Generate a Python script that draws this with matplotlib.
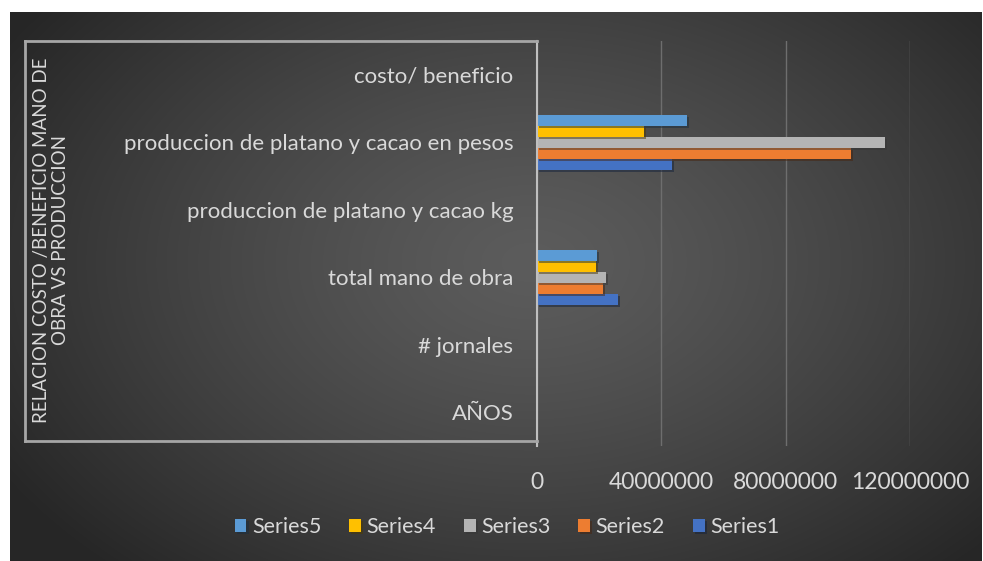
import numpy as np
import matplotlib
matplotlib.use("Agg")
import matplotlib.pyplot as plt
from matplotlib import patheffects
from matplotlib.lines import Line2D

# categorias (de abajo hacia arriba) y valores por serie
categorias = ["AÑOS", "# jornales", "total mano de obra",
              "produccion de platano y cacao kg",
              "produccion de platano y cacao en pesos", "costo/ beneficio"]
series1 = [2014, 260, 26100000, 21000, 43300000, 1.6]
series2 = [2015, 240, 21300000, 45000, 100900000, 3.7]
series3 = [2016, 250, 22200000, 48000, 111800000, 4.0]
series4 = [2017, 230, 19000000, 16000, 34400000, 1.4]
series5 = [2018, 230, 19200000, 22000, 48100000, 1.8]
nombres = ["Series1", "Series2", "Series3", "Series4", "Series5"]
colores = ["#4472C4", "#ED7D31", "#B4B4B4", "#FFC000", "#5B9BD5"]
ticks_x = [0, 40000000, 80000000, 120000000]

plt.rcParams["font.family"] = ["Lato", "DejaVu Sans"]
texto = "#d9d9d9"

W, H = 983, 561
fig = plt.figure(figsize=(W / 100, H / 100), dpi=100, facecolor="white")

# fondo oscuro con degradado radial
bg = fig.add_axes([10 / W, 0, 972 / W, 549 / H])
yy, xx = np.mgrid[0:549, 0:972]
r = np.sqrt(((xx - 520) / 620) ** 2 + ((yy - 250) / 420) ** 2)
r = np.clip(r, 0, 1)
claro, oscuro = 0x5c / 255, 0x26 / 255
img = claro + (oscuro - claro) * r ** 1.3
bg.imshow(np.dstack([img, img, img]), aspect="auto", extent=(0, 1, 0, 1))
bg.axis("off")

# area de trazado
x0, x1, ytop, ybot = 537, 910, 41, 446
ax = fig.add_axes([x0 / W, (H - ybot) / H, (x1 - x0) / W, (ybot - ytop) / H])
ax.patch.set_alpha(0)

y = np.arange(len(categorias))
h = 0.163
valores = [series1, series2, series3, series4, series5]
sombra = [patheffects.SimplePatchShadow(offset=(1.5, -1.5), alpha=0.5), patheffects.Normal()]
for i, (vals, nom, col) in enumerate(zip(valores, nombres, colores)):
    ax.barh(y + (i - 2) * h, vals, height=h, color=col, label=nom,
            path_effects=sombra, zorder=3)

ax.set_xlim(0, 120000000)
ax.set_ylim(-0.5, len(categorias) - 0.5)
ax.set_xticks(ticks_x)
ax.set_xticklabels([str(t) for t in ticks_x])
ax.set_yticks(y)
ax.set_yticklabels(categorias)
ax.tick_params(axis="x", length=0, pad=19, labelsize=16.5, colors=texto)
ax.tick_params(axis="y", length=0, pad=17, labelsize=16, colors=texto)
ax.grid(axis="x", color="#6e6e6e", linewidth=1, zorder=0)
for s in ["top", "right", "bottom"]:
    ax.spines[s].set_visible(False)
ax.spines["left"].set_color("#bfbfbf")
ax.spines["left"].set_linewidth(1.5)
ax.spines["left"].set_zorder(4)

# marco alrededor de las etiquetas de categoria
caja = dict(color="#a6a6a6", linewidth=2, transform=fig.transFigure)
fig.add_artist(Line2D([25 / W, x0 / W], [(H - ytop) / H] * 2, **caja))
fig.add_artist(Line2D([25 / W, 25 / W], [(H - ytop) / H, (H - 441) / H], **caja))
fig.add_artist(Line2D([25 / W, x0 / W], [(H - 441) / H] * 2, **caja))

fig.text(51 / W, (H - 240) / H,
         "RELACION COSTO /BENEFICIO MANO DE\nOBRA VS PRODUCCION",
         rotation=90, ha="center", va="center", multialignment="center",
         fontsize=13.5, color=texto, linespacing=1.2)

handles, labels = ax.get_legend_handles_labels()
fig.legend(handles[::-1], labels[::-1], loc="center", bbox_to_anchor=(507 / W, (H - 527) / H),
           ncol=5, frameon=False, fontsize=15.5, labelcolor=texto,
           handlelength=0.55, handleheight=0.55, handletextpad=0.25, columnspacing=1.3)

fig.savefig("out.png", dpi=100, facecolor="white")
